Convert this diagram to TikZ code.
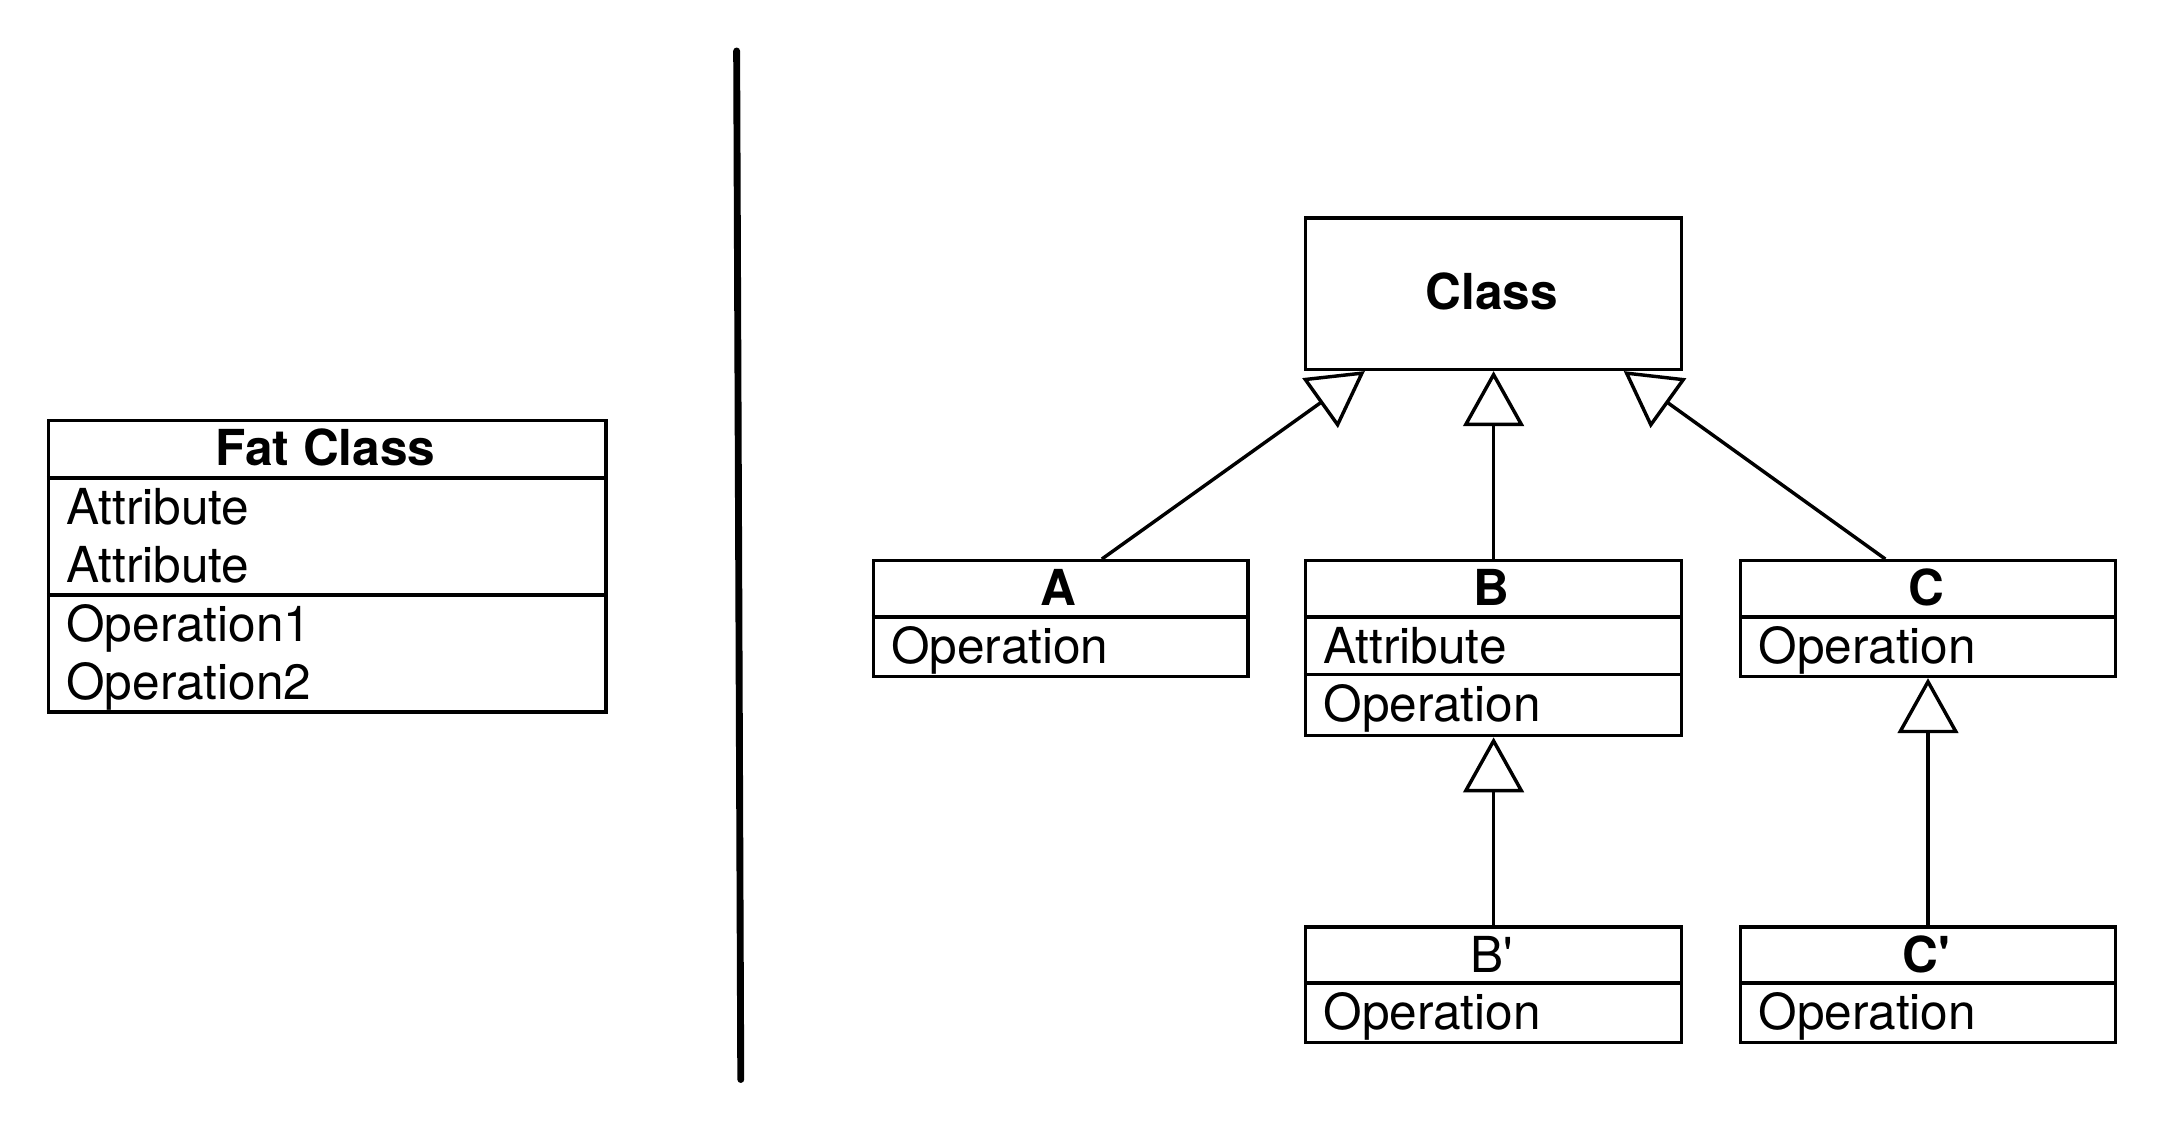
\documentclass[tikz,border=0pt]{standalone}
\usepackage{fontspec}
\setmainfont{TeX Gyre Heros}
\usetikzlibrary{arrows.meta,calc}
\begin{document}
\begin{tikzpicture}[x=1pt,y=-1pt,
  box/.style={draw,line width=2.5pt,rectangle,inner sep=0pt,anchor=north west},
  txt/.style={inner sep=0pt,anchor=base west,font=\fontsize{36}{43}\selectfont},
  ttl/.style={inner sep=0pt,anchor=base,font=\fontsize{36}{43}\selectfont\bfseries},
  ttlr/.style={inner sep=0pt,anchor=base,font=\fontsize{36}{43}\selectfont},
  divl/.style={line width=2.5pt},
  gen/.style={line width=2.5pt,-{Triangle[open,length=40pt,width=44pt]}}]
\useasboundingbox (1,1) rectangle (1568.3,821);

% Fat class
\node[box,minimum width=405pt,minimum height=212pt] (fat) at (35,305) {};
\draw[divl] (35,348) -- (440,348);
\draw[divl] (35,433) -- (440,433);
\node[ttl] (fatT) at (237.5,339) {Fat Class};
\node[txt] (fat1) at (49,382) {Attribute};
\node[txt] (fat2) at (49,424) {Attribute};
\node[txt] (fat3) at (49,467) {Operation1};
\node[txt] (fat4) at (49,509) {Operation2};

% separator
\draw[line width=5pt,line cap=round] (536,38) -- (539,785);

% Class
\node[box,minimum width=273pt,minimum height=110pt] (cls) at (948,158) {};
\node[ttl] (clsT) at (1084.5,226) {Class};

% A
\node[box,minimum width=272pt,minimum height=84pt] (A) at (634,407) {};
\draw[divl] (634,449) -- (906,449);
\node[ttl] (AT) at (770,441) {A};
\node[txt] (A1) at (648,483) {Operation};

% B
\node[box,minimum width=273pt,minimum height=127pt] (B) at (948,407) {};
\draw[divl] (948,449) -- (1221,449);
\draw[divl] (948,491) -- (1221,491);
\node[ttl] (BT) at (1084.5,441) {B};
\node[txt] (B1) at (962,483) {Attribute};
\node[txt] (B2) at (962,525) {Operation};

% C
\node[box,minimum width=272pt,minimum height=84pt] (C) at (1264,407) {};
\draw[divl] (1264,449) -- (1536,449);
\node[ttl] (CT) at (1400,441) {C};
\node[txt] (C1) at (1278,483) {Operation};

% B'
\node[box,minimum width=273pt,minimum height=84pt] (Bp) at (948,673) {};
\draw[divl] (948,715) -- (1221,715);
\node[ttlr] (BpT) at (1084.5,707) {B\textquotesingle};
\node[txt] (Bp1) at (962,749) {Operation};

% C'
\node[box,minimum width=272pt,minimum height=84pt] (Cp) at (1264,673) {};
\draw[divl] (1264,715) -- (1536,715);
\node[ttl] (CpT) at (1400,707) {C\textquotesingle};
\node[txt] (Cp1) at (1278,749) {Operation};

% generalizations
\draw[gen] ([xshift=30pt]A.north) -- ([xshift=-93.5pt]cls.south);
\draw[gen] (B.north) -- (cls.south);
\draw[gen] ([xshift=-31pt]C.north) -- ([xshift=94.5pt]cls.south);
\draw[gen] (Bp.north) -- (B.south);
\draw[gen] (Cp.north) -- (C.south);
\end{tikzpicture}
\end{document}
